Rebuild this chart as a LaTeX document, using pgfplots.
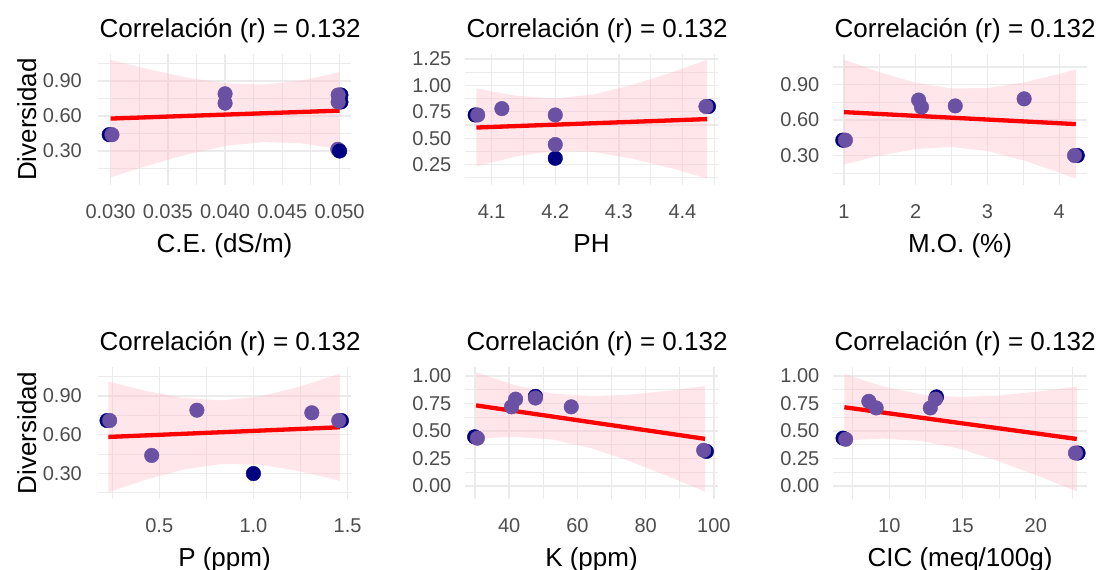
\documentclass[border=0pt]{standalone}
\usepackage{pgfplots}
\pgfplotsset{compat=1.18}
\usepackage{fontspec}
\setmainfont{Liberation Sans}
\definecolor{navyc}{HTML}{000080}
\definecolor{purp}{HTML}{6A51A3}
\definecolor{gridc}{HTML}{EBEBEB}
\definecolor{tickc}{HTML}{4D4D4D}
\definecolor{ribbonc}{HTML}{FFC0CB}
\pgfplotsset{
  every axis title/.style={at={(axis description cs:0,1)}, anchor=base west, xshift=1.5pt, yshift=16.7pt, inner sep=0pt, font=\fontsize{26}{30}\selectfont},
  every axis x label/.style={at={(axis description cs:0.5,0)}, anchor=base, yshift=-67pt, inner sep=0pt, font=\fontsize{26}{30}\selectfont},
  every axis y label/.style={at={(axis description cs:-0.245,0.5)}, rotate=90, anchor=base, inner sep=0pt, font=\fontsize{26}{30}\selectfont},
  panel/.style={
    scale only axis,
    axis line style={draw=none}, tick style={draw=none},
    major tick length=0pt, minor tick length=0pt,
    grid=both,
    major grid style={gridc, line width=1.4pt},
    minor grid style={gridc, line width=1.1pt},
    scaled ticks=false,
    tick label style={font=\fontsize{20}{24}\selectfont, text=tickc, inner sep=0pt},
    xticklabel style={anchor=base, yshift=-33.5pt},
    yticklabel style={anchor=east, xshift=-#1},
    title={Correlación (r) = 0.132},
  },
  rib/.style={draw=none, fill=ribbonc, fill opacity=0.4},
  fit/.style={red, line width=4.3pt},
  nv/.style={only marks, mark=*, mark size=7.3pt, color=navyc},
  pp/.style={only marks, mark=*, mark size=7.3pt, color=purp},
}
\begin{document}
\begin{tikzpicture}
\path[use as bounding box] (0pt,-570pt) rectangle (1100pt,0pt);
% Panel 1: C.E.
\begin{axis}[panel=16pt, at={(98pt,-54pt)}, anchor=north west, width=253pt, height=131pt,
  xmin=0.0289, xmax=0.0510, ymin=0.009, ymax=1.131,
  xtick={0.030,0.035,0.040,0.045,0.050}, xticklabels={0.030,0.035,0.040,0.045,0.050},
  minor xtick={0.0325,0.0375,0.0425,0.0475},
  ytick={0.30,0.60,0.90}, yticklabels={0.30,0.60,0.90}, minor ytick={0.15,0.45,0.75,1.05},
  xlabel={C.E. (dS/m)}, ylabel={Diversidad}]
\addplot[rib] coordinates {(0.030,1.081) (0.03333,1.000) (0.03667,0.929) (0.040,0.881) (0.04333,0.869) (0.04667,0.903) (0.050,0.975) (0.050,0.317) (0.04667,0.365) (0.04333,0.377) (0.040,0.343) (0.03667,0.271) (0.03333,0.178) (0.030,0.075)} -- cycle;
\addplot[fit] coordinates {(0.030,0.578) (0.050,0.646)};
\addplot[pp] coordinates {(0.04985,0.315)};
\addplot[nv] coordinates {(0.02988,0.44) (0.05012,0.78) (0.05012,0.72) (0.050,0.30)};
\addplot[pp] coordinates {(0.03012,0.44) (0.040,0.79) (0.040,0.71) (0.04988,0.78) (0.04988,0.72)};
\end{axis}
% Panel 2: PH
\begin{axis}[panel=13.5pt, at={(465pt,-54pt)}, anchor=north west, width=253pt, height=131pt,
  xmin=4.058, xmax=4.456, ymin=0.057, ymax=1.297,
  xtick={4.1,4.2,4.3,4.4}, xticklabels={4.1,4.2,4.3,4.4},
  minor xtick={4.15,4.25,4.35,4.45},
  ytick={0.25,0.50,0.75,1.00,1.25}, yticklabels={0.25,0.50,0.75,1.00,1.25},
  minor ytick={0.125,0.375,0.625,0.875,1.125},
  xlabel={PH}]
\addplot[rib] coordinates {(4.076,0.971) (4.14,0.900) (4.20,0.876) (4.26,0.914) (4.32,1.003) (4.38,1.116) (4.439,1.243) (4.439,0.119) (4.38,0.220) (4.32,0.307) (4.26,0.370) (4.20,0.382) (4.14,0.330) (4.076,0.233)} -- cycle;
\addplot[fit] coordinates {(4.076,0.601) (4.439,0.681)};
\addplot[nv] coordinates {(4.074,0.72) (4.20,0.31) (4.441,0.80)};
\addplot[pp] coordinates {(4.078,0.72) (4.116,0.78) (4.20,0.72) (4.20,0.44) (4.437,0.80)};
\end{axis}
% Panel 3: M.O.
\begin{axis}[panel=13.5pt, at={(833pt,-54pt)}, anchor=north west, width=254pt, height=131pt,
  xmin=0.847, xmax=4.386, ymin=0.050, ymax=1.160,
  xtick={1,2,3,4}, xticklabels={1,2,3,4},
  minor xtick={1.5,2.5,3.5},
  ytick={0.30,0.60,0.90}, yticklabels={0.30,0.60,0.90}, minor ytick={0.15,0.45,0.75,1.05},
  xlabel={M.O. (\%)}]
\addplot[rib] coordinates {(1.0,1.112) (1.5,1.005) (2.0,0.917) (2.5,0.868) (3.0,0.872) (3.5,0.919) (4.0,0.991) (4.23,1.029) (4.23,0.103) (4.0,0.155) (3.5,0.259) (3.0,0.338) (2.5,0.372) (2.0,0.355) (1.5,0.299) (1.0,0.224)} -- cycle;
\addplot[fit] coordinates {(1.0,0.6675) (4.23,0.566)};
\addplot[nv] coordinates {(0.983,0.43) (4.25,0.30)};
\addplot[pp] coordinates {(1.02,0.43) (2.04,0.77) (2.08,0.71) (2.55,0.72) (3.51,0.78) (4.212,0.30)};
\end{axis}
% Panel 4: P
\begin{axis}[panel=16pt, at={(98pt,-367pt)}, anchor=north west, width=253pt, height=132pt,
  xmin=0.175, xmax=1.518, ymin=0.103, ymax=1.124,
  xtick={0.5,1.0,1.5}, xticklabels={0.5,1.0,1.5},
  minor xtick={0.25,0.75,1.25},
  ytick={0.30,0.60,0.90}, yticklabels={0.30,0.60,0.90}, minor ytick={0.15,0.45,0.75,1.05},
  xlabel={P (ppm)}, ylabel={Diversidad}]
\addplot[rib] coordinates {(0.23,1.012) (0.43,0.939) (0.63,0.885) (0.83,0.866) (1.03,0.895) (1.23,0.965) (1.46,1.073) (1.46,0.243) (1.23,0.323) (1.03,0.369) (0.83,0.374) (0.63,0.331) (0.43,0.253) (0.23,0.154)} -- cycle;
\addplot[fit] coordinates {(0.23,0.583) (1.46,0.658)};
\addplot[nv] coordinates {(0.223,0.71) (1.00,0.30) (1.467,0.71)};
\addplot[pp] coordinates {(0.237,0.71) (0.46,0.44) (0.70,0.79) (1.31,0.77) (1.453,0.71)};
\end{axis}
% Panel 5: K
\begin{axis}[panel=13.5pt, at={(465pt,-367pt)}, anchor=north west, width=253pt, height=132pt,
  xmin=27.07, xmax=101.2, ymin=-0.118, ymax=1.082,
  xtick={40,60,80,100}, xticklabels={40,60,80,100},
  minor xtick={30,50,70,90},
  ytick={0,0.25,0.50,0.75,1.00}, yticklabels={0.00,0.25,0.50,0.75,1.00},
  minor ytick={0.125,0.375,0.625,0.875},
  xlabel={K (ppm)}]
\addplot[rib] coordinates {(30.3,1.034) (41.5,0.918) (52.7,0.841) (63.9,0.817) (75.1,0.831) (86.3,0.865) (97.4,0.909) (97.4,-0.051) (86.3,0.093) (75.1,0.229) (63.9,0.345) (52.7,0.423) (41.5,0.447) (30.3,0.432)} -- cycle;
\addplot[fit] coordinates {(30.3,0.733) (97.4,0.429)};
\addplot[nv] coordinates {(29.9,0.447) (47.7,0.815) (97.8,0.315)};
\addplot[pp] coordinates {(30.7,0.435) (40.7,0.72) (41.9,0.79) (47.7,0.80) (58.2,0.72) (97.0,0.325)};
\end{axis}
% Panel 6: CIC
\begin{axis}[panel=13.5pt, at={(833pt,-367pt)}, anchor=north west, width=254pt, height=132pt,
  xmin=6.154, xmax=23.50, ymin=-0.118, ymax=1.082,
  xtick={10,15,20}, xticklabels={10,15,20},
  minor xtick={7.5,12.5,17.5,22.5},
  ytick={0,0.25,0.50,0.75,1.00}, yticklabels={0.00,0.25,0.50,0.75,1.00},
  minor ytick={0.125,0.375,0.625,0.875},
  xlabel={CIC (meq/100g)}]
\addplot[rib] coordinates {(6.93,1.017) (9.6,0.905) (12.24,0.831) (14.9,0.809) (17.5,0.824) (20.2,0.860) (22.8,0.904) (22.8,-0.048) (20.2,0.090) (17.5,0.224) (14.9,0.335) (12.24,0.409) (9.6,0.431) (6.93,0.415)} -- cycle;
\addplot[fit] coordinates {(6.93,0.716) (22.8,0.428)};
\addplot[nv] coordinates {(6.84,0.435) (13.22,0.81) (22.89,0.30)};
\addplot[pp] coordinates {(7.02,0.425) (8.6,0.77) (9.1,0.71) (12.8,0.71) (13.15,0.79) (22.71,0.30)};
\end{axis}
\end{tikzpicture}
\end{document}
